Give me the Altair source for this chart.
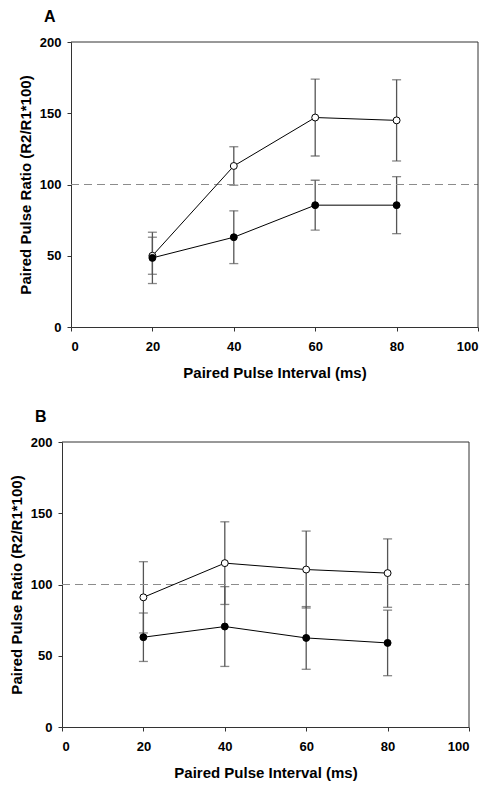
import altair as alt
import pandas as pd

intervals = [20, 40, 60, 80]

a_open_mean = [50, 113, 147, 145]
a_open_err = [13, 13.5, 27, 28.5]
a_filled_mean = [48.5, 63, 85.5, 85.5]
a_filled_err = [18, 18.5, 17.5, 20]

b_open_mean = [91, 115, 110.5, 108]
b_open_err = [25, 29, 27, 24]
b_filled_mean = [63, 70.5, 62.5, 59]
b_filled_err = [17, 28, 22, 23]

x_ticks = [0, 20, 40, 60, 80, 100]
y_ticks = [0, 50, 100, 150, 200]
ref_level = 100

FONT = "Liberation Sans"
W, H = 407, 285
AX = "#333333"


def make_df(open_m, open_e, filled_m, filled_e):
    rows = []
    for s, ms, es in (("open", open_m, open_e), ("filled", filled_m, filled_e)):
        for x, m, e in zip(intervals, ms, es):
            rows.append({"x": x, "series": s, "mean": m, "lo": m - e, "hi": m + e})
    return pd.DataFrame(rows)


def panel(df, letter, shift):
    xs = alt.X("x:Q", scale=alt.Scale(domain=[0, 100], nice=False, range=[shift, shift + W]),
               axis=alt.Axis(values=x_ticks, title="Paired Pulse Interval (ms)",
                             labelPadding=9, titlePadding=12))
    ys = alt.Y("mean:Q", scale=alt.Scale(domain=[0, 200], nice=False),
               axis=alt.Axis(values=y_ticks, title="Paired Pulse Ratio (R2/R1*100)",
                             labelPadding=6, titlePadding=6, offset=-shift))
    base = alt.Chart(df)
    one = alt.Chart(pd.DataFrame({"v": [0]}))
    dashed = one.mark_rule(color="#8c8c8c", strokeDash=[8, 5], strokeWidth=1.2).encode(
        x=alt.datum(0, type="quantitative"), x2=alt.datum(100),
        y=alt.datum(ref_level, type="quantitative"))
    top = one.mark_rule(color=AX, strokeWidth=1).encode(
        x=alt.datum(0, type="quantitative"), x2=alt.datum(100),
        y=alt.datum(200, type="quantitative"))
    right = one.mark_rule(color=AX, strokeWidth=1).encode(
        x=alt.datum(100, type="quantitative"),
        y=alt.datum(0, type="quantitative"), y2=alt.datum(200))
    bars = base.mark_rule(color="#555555", strokeWidth=1.3).encode(
        x=xs, y=alt.Y("lo:Q"), y2="hi:Q")
    cap_lo = base.mark_tick(color="#555555", orient="horizontal", size=9, thickness=1.3).encode(
        x="x:Q", y="lo:Q")
    cap_hi = base.mark_tick(color="#555555", orient="horizontal", size=9, thickness=1.3).encode(
        x="x:Q", y="hi:Q")
    lines = base.mark_line(color="black", strokeWidth=1).encode(
        x="x:Q", y=ys, detail="series:N", order="x:Q")
    pts = base.mark_point(shape="circle", filled=True, size=48, stroke="black",
                          strokeWidth=1, opacity=1).encode(
        x="x:Q", y="mean:Q",
        fill=alt.Fill("series:N", scale=alt.Scale(domain=["open", "filled"],
                                                  range=["white", "black"]), legend=None))
    return alt.layer(bars, cap_lo, cap_hi, dashed, top, right, lines, pts).properties(
        width=W + shift, height=H,
        title=alt.TitleParams(letter, anchor="start", frame="group", dx=shift - 27,
                              fontSize=16, fontWeight="bold", font=FONT,
                              color="black", offset=11),
    )


pa = panel(make_df(a_open_mean, a_open_err, a_filled_mean, a_filled_err), "A", 9)
pb = panel(make_df(b_open_mean, b_open_err, b_filled_mean, b_filled_err), "B", 0)

chart = alt.concat(pa, pb, columns=1, spacing=27).resolve_scale(
    x="independent", y="independent"
).properties(
    padding={"left": 0, "top": 0, "right": 0, "bottom": 0}, background="white"
).configure_view(
    stroke="transparent"
).configure_axis(
    grid=False, labelFont=FONT, titleFont=FONT, labelFontSize=13, titleFontSize=15,
    labelFontWeight="bold", titleFontWeight="bold", labelColor="black", titleColor="black",
    tickColor=AX, domainColor=AX, tickSize=4,
)

chart.save("out.html", embed_options={"renderer": "svg", "actions": False})
